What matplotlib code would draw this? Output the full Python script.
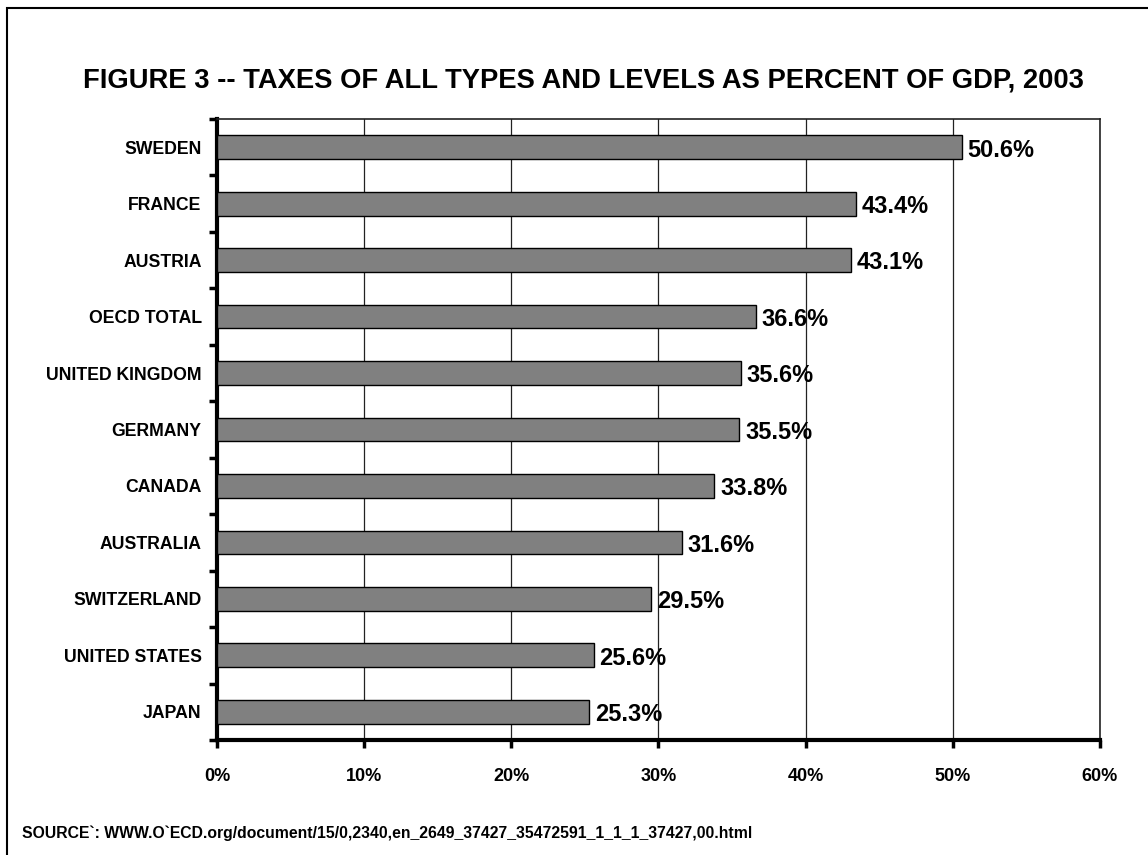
import matplotlib
matplotlib.use("Agg")
import matplotlib.pyplot as plt
from matplotlib.patches import Rectangle
from matplotlib.ticker import FixedLocator, PercentFormatter

countries = ["SWEDEN", "FRANCE", "AUSTRIA", "OECD TOTAL", "UNITED KINGDOM", "GERMANY",
             "CANADA", "AUSTRALIA", "SWITZERLAND", "UNITED STATES", "JAPAN"]
values = [50.6, 43.4, 43.1, 36.6, 35.6, 35.5, 33.8, 31.6, 29.5, 25.6, 25.3]
xticks = [0, 10, 20, 30, 40, 50, 60]

title = "FIGURE 3 -- TAXES OF ALL TYPES AND LEVELS AS PERCENT OF GDP, 2003"
source = "SOURCE`: WWW.O`ECD.org/document/15/0,2340,en_2649_37427_35472591_1_1_1_37427,00.html"

plt.rcParams['font.family'] = ['Liberation Sans', 'DejaVu Sans']

fig = plt.figure(figsize=(11.48, 8.55), dpi=100)
fig.patch.set_facecolor('white')
# figure border (extends beyond right/bottom)
fig.add_artist(Rectangle((7/1148, -0.1), 1.2, 1 - 8/855 + 0.1, transform=fig.transFigure,
                         fill=False, edgecolor='black', lw=1.5))

ax = fig.add_axes([217/1148, 1 - 740/855, (1100-217)/1148, (740-119)/855])
n = len(countries)
ypos = [n - 1 - i for i in range(n)]
ax.barh(ypos, values, height=0.42, color='#808080', edgecolor='black', lw=1.0, zorder=3)
ax.set_xlim(0, 60)
ax.set_ylim(-0.5, n - 0.5)

ax.xaxis.set_major_locator(FixedLocator(xticks))
ax.xaxis.set_major_formatter(PercentFormatter(decimals=0))
ax.grid(axis='x', color='#222222', lw=0.9, zorder=0)
ax.set_yticks(ypos)
ax.set_yticklabels(countries, fontsize=12.7, fontweight='bold')
ax.yaxis.set_minor_locator(FixedLocator([i - 0.5 for i in range(n + 1)]))
ax.tick_params(axis='y', which='major', length=0, pad=11)
ax.tick_params(axis='y', which='minor', length=6, width=2.5, direction='out')
ax.tick_params(axis='x', which='major', length=6, width=2.5, direction='out', pad=14,
               labelsize=13)
for lab in ax.get_xticklabels():
    lab.set_fontweight('bold')

for side in ['left', 'bottom']:
    ax.spines[side].set_linewidth(3)
for side in ['top', 'right']:
    ax.spines[side].set_linewidth(1.2)
    ax.spines[side].set_color('#222222')

for y, v in zip(ypos, values):
    ax.annotate(f"{v:.1f}%", xy=(v, y), xytext=(4, -2), textcoords='offset points',
                ha='left', va='center', fontsize=17, fontweight='bold', zorder=4)

fig.text(583/1148, 1 - 80/855, title, ha='center', va='center', fontsize=19.7, fontweight='bold')
fig.text(22/1148, 1 - 833/855, source, ha='left', va='center', fontsize=11.3, fontweight='bold')

fig.savefig("out.png", dpi=100, facecolor='white')
